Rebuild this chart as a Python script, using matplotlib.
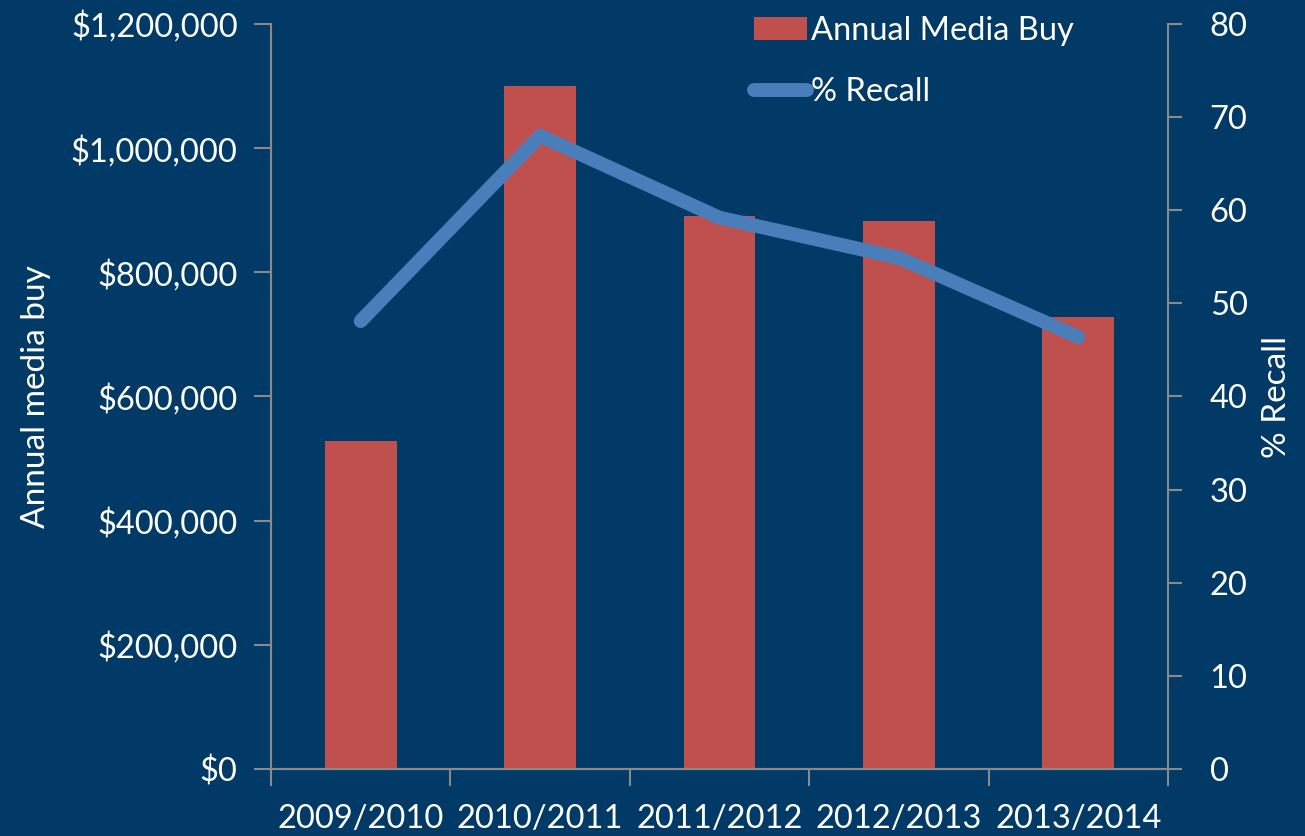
import matplotlib.pyplot as plt
import numpy as np
from matplotlib.ticker import FuncFormatter
from matplotlib.lines import Line2D
from matplotlib.patches import Patch

seasons = ["2009/2010", "2010/2011", "2011/2012", "2012/2013", "2013/2014"]
media_buy = [528000, 1100000, 890000, 882000, 728000]
recall = [48.1, 68.0, 59.2, 54.9, 46.4]

bg = "#013a66"
bar_color = "#c0504d"
line_color = "#4a7ebb"
axis_gray = "#8a8a8a"
fs = 23.5

plt.rcParams["font.family"] = ["Lato", "DejaVu Sans"]
plt.rcParams["font.size"] = fs

fig = plt.figure(figsize=(13.05, 8.36), dpi=100, facecolor=bg)
ax = fig.add_axes([271 / 1305, 67 / 836, 897 / 1305, 745 / 836])
ax.set_facecolor(bg)
ax2 = ax.twinx()

x = np.arange(len(seasons))
ax.bar(x, media_buy, width=0.4, color=bar_color, zorder=2)
ax2.plot(x, recall, color=line_color, linewidth=10, solid_capstyle="round",
         solid_joinstyle="round", zorder=3)

ax.set_xlim(-0.5, len(seasons) - 0.5)
ax.set_ylim(0, 1200000)
ax2.set_ylim(0, 80)
ax.set_yticks(np.arange(0, 1200001, 200000))
ax2.set_yticks(np.arange(0, 81, 10))
ax.yaxis.set_major_formatter(FuncFormatter(lambda v, p: f"${v:,.0f}"))

# category boundaries get the tick marks, names sit between them
ax.set_xticks(np.arange(-0.5, len(seasons)), labels=[])
ax.set_xticks(x, labels=seasons, minor=True)
ax.tick_params(axis="x", which="minor", length=0, pad=25, colors="white", labelsize=fs)
ax.tick_params(axis="x", which="major", length=12, width=1.5, color=axis_gray)
ax.tick_params(axis="y", length=12, width=1.5, color=axis_gray, labelcolor="white",
               labelsize=fs, pad=12)
ax2.tick_params(axis="y", length=10, width=1.5, color=axis_gray, labelcolor="white",
                labelsize=fs, pad=20)

for a in (ax, ax2):
    a.spines["top"].set_visible(False)
    for s in a.spines.values():
        s.set_color(axis_gray)
        s.set_linewidth(1.5)
ax2.spines["left"].set_visible(False)
ax.spines["right"].set_visible(False)

ax.set_ylabel("Annual media buy", color="white", fontsize=24, labelpad=14)
ax2.set_ylabel("% Recall", color="white", fontsize=24, labelpad=10)

handles = [Patch(facecolor=bar_color, edgecolor="none"),
           Line2D([0], [0], color=line_color, linewidth=10, solid_capstyle="round")]
fig.legend(handles, ["Annual Media Buy", "% Recall"], loc="upper left",
           bbox_to_anchor=(738 / 1305, 1.0), frameon=False, borderpad=0,
           labelcolor="white", fontsize=fs, handlelength=1.6, handletextpad=0.15,
           labelspacing=0.95)

fig.savefig("out.png", dpi=100, facecolor=bg)
